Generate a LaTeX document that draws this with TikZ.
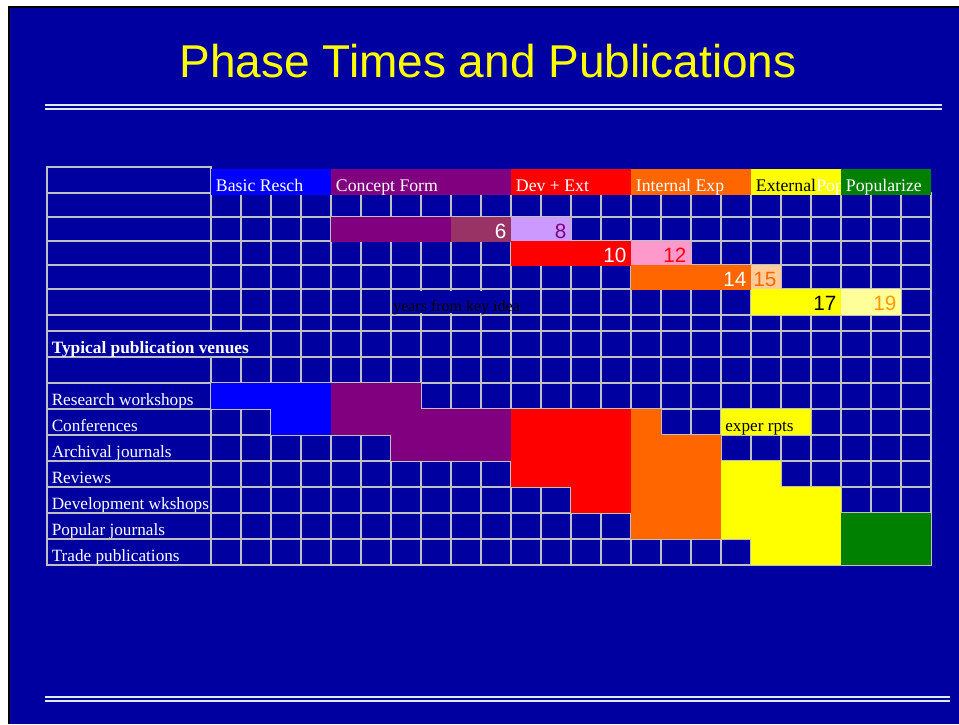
\documentclass[tikz,border=0pt]{standalone}
\usepackage{fontspec}
\setmainfont{Liberation Serif}
\newfontfamily\arialf{Liberation Sans}
\definecolor{slidebg}{RGB}{0,0,160}
\definecolor{gridc}{RGB}{192,192,192}
\definecolor{cBlue}{RGB}{0,0,255}
\definecolor{cPurp}{RGB}{128,0,128}
\definecolor{cPlum}{RGB}{153,51,102}
\definecolor{cLav}{RGB}{204,153,255}
\definecolor{cRed}{RGB}{255,0,0}
\definecolor{cPink}{RGB}{255,153,204}
\definecolor{cOrange}{RGB}{255,102,0}
\definecolor{cLOrange}{RGB}{255,204,153}
\definecolor{cYellow}{RGB}{255,255,0}
\definecolor{cLYellow}{RGB}{255,255,153}
\definecolor{cGreen}{RGB}{0,128,0}
\definecolor{cGold}{RGB}{255,153,0}
\definecolor{titlec}{RGB}{255,255,0}
\definecolor{rulec}{RGB}{225,235,255}
\tikzset{
  gridline/.style={draw=gridc, line width=1.8pt, line cap=rect},
  dblrule/.style={draw=rulec, line width=1.5pt},
  hdr/.style={anchor=base west, inner sep=0pt, text=white, font=\fontsize{13.3}{15}\selectfont},
  lbl/.style={anchor=base west, inner sep=0pt, text=white, font=\fontsize{12.9}{15}\selectfont},
  num/.style={anchor=base east, inner sep=0pt, font=\arialf\fontsize{15.5}{17}\selectfont},
}
\begin{document}
\begin{tikzpicture}[x=0.75pt,y=-0.75pt]
\useasboundingbox (0,0) rectangle (959,724);
\fill[white] (0,0) rectangle (959,724);
\fill[black] (8,6) rectangle (959,724);
\fill[slidebg] (10,8) rectangle (959,724);

% title
\node[anchor=base, inner sep=0pt, text=titlec, font=\arialf\fontsize{34.5}{40}\selectfont] (title) at (488,78) {Phase Times and Publications};

% double rules
\draw[dblrule] (45,104.5) -- (942,104.5);
\draw[dblrule] (45,108.5) -- (942,108.5);
\draw[dblrule] (45,697) -- (950,697);
\draw[dblrule] (45,701) -- (950,701);

% row labels (under grid)
\node[lbl] (lRW) at (51.5,405.7) {Research workshops};
\node[lbl] (lCo) at (51.5,431.7) {Conferences};
\node[lbl] (lAJ) at (51.5,457.7) {Archival journals};
\node[lbl] (lRe) at (51.5,483.7) {Reviews};
\node[lbl] (lDW) at (51.5,509.7) {Development wkshops};
\node[lbl] (lPJ) at (51.5,535.7) {Popular journals};
\node[lbl] (lTP) at (51.5,561.7) {Trade publications};

% grid
\draw[gridline] (47,167) -- (211,167);
\foreach \y in {193,217,241,265,289,315,331,357,383,409,435,461,487,513,539,565}
  \draw[gridline] (47,\y) -- (931,\y);
\draw[gridline] (47,167) -- (47,565);
\draw[gridline] (211,167) -- (211,331) (211,357) -- (211,565);
\draw[gridline] (241,193) -- (241,331) (241,357) -- (241,565);
\foreach \x in {271,301,...,931}
  \draw[gridline] (\x,193) -- (\x,565);

% header blocks
\fill[cBlue] (211,169) rectangle (331,194.5);
\fill[cPurp] (331,169) rectangle (511,194.5);
\fill[cRed] (511,169) rectangle (631,194.5);
\fill[cOrange] (631,169) rectangle (751,194.5);
\fill[cYellow] (751,169) rectangle (841,194.5);
\node[hdr] (hBasic) at (215.7,191) {Basic Resch};
\node[hdr] (hConc) at (335.7,191) {Concept Form};
\node[hdr] (hDev) at (515.7,191) {Dev + Ext};
\node[hdr] (hInt) at (635.7,191) {Internal Exp};
\node[hdr, text=black] (hExt) at (755.7,191) {External};
\begin{scope}
  \clip (751,169) rectangle (841,194.5);
  \node[hdr] (hPop) at (816,191) {Pop};
\end{scope}
\fill[cGreen] (841,169) rectangle (931,194.5);
\node[hdr] (hPopz) at (845.7,191) {Popularize};

% phase time bars
\fill[cPurp] (331,217) rectangle (451,241.5);
\fill[cPlum] (451,217) rectangle (511,241.5);
\fill[cLav] (511,217) rectangle (571,241.5);
\fill[cRed] (511,241) rectangle (631,265.5);
\fill[cPink] (631,241) rectangle (691,265.5);
\fill[cOrange] (631,265) rectangle (751,289.5);
\fill[cLOrange] (751,265) rectangle (781,289.5);
\fill[cYellow] (751,289) rectangle (841,314.5);
\fill[cLYellow] (841,289) rectangle (901,314.5);
\node[num, text=white] (n6) at (506.7,238.5) {6};
\node[num, text=cPurp] (n8) at (566.7,238.5) {8};
\node[num, text=white] (n10) at (626.7,262.7) {10};
\node[num, text=cRed] (n12) at (686.7,262.7) {12};
\node[num, text=white] (n14) at (746.7,286.5) {14};
\node[num, text=cOrange] (n15) at (776.7,286.5) {15};
\node[num, text=black] (n17) at (836.7,310.7) {17};
\node[num, text=cGold] (n19) at (896.7,310.7) {19};

% years label
\fill[slidebg] (392,290.8) rectangle (510,313.2);
\node[anchor=base west, inner sep=0pt, text=black, font=\fontsize{12}{14}\selectfont] (years) at (393,311.5) {years from key idea};

% section label
\node[lbl, font=\bfseries\fontsize{13}{15}\selectfont] (typ) at (51.5,353) {Typical publication venues};

% venue bars
\fill[cBlue] (211,383) rectangle (331,409);
\fill[cPurp] (331,383) rectangle (421,409);
\fill[cBlue] (271,409) rectangle (331,435);
\fill[cPurp] (331,409) rectangle (511,435);
\fill[cPurp] (391,435) rectangle (511,461);
\fill[cRed] (511,409) rectangle (631,487);
\fill[cRed] (571,487) rectangle (631,513);
\fill[cOrange] (631,409) rectangle (661,435);
\fill[cOrange] (631,435) rectangle (721,539);
\fill[cYellow] (721,409) rectangle (811,435);
\fill[cYellow] (721,461) rectangle (781,487);
\fill[cYellow] (721,487) rectangle (841,539);
\fill[cYellow] (751,539) rectangle (841,565);
\fill[cGreen] (841,513) rectangle (931,565);
\node[lbl, text=black] (exper) at (725,431.7) {exper rpts};
\end{tikzpicture}
\end{document}
